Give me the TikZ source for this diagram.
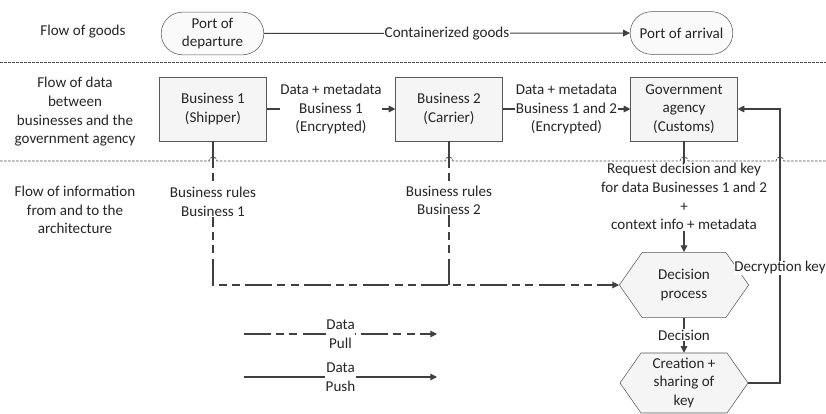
\documentclass[tikz,border=0pt]{standalone}
\usepackage{fontspec}
\setmainfont{Carlito}
\usetikzlibrary{shapes.misc,shapes.symbols,arrows.meta,positioning}

\begin{document}
\begin{tikzpicture}[x=0.75pt,y=-0.75pt,
  every node/.style={font=\fontsize{11.3}{14}\selectfont, text=black!85, align=center},
  port/.style={rounded rectangle, draw=black!65, fill=gray!4,
    minimum width=79pt, minimum height=32pt, inner sep=1pt},
  party/.style={rectangle, draw=black!65, fill=gray!8,
    minimum width=80pt, minimum height=48pt},
  process/.style={signal, signal to=east and west, signal pointer angle=110,
    draw=black!65, fill=gray!8, inner sep=1pt},
  link/.style={draw=black!75, line width=0.8pt},
  flow/.style={link, -{Triangle[length=5pt,width=5pt]}},
  pulllink/.style={link, dash pattern=on 20pt off 4pt on 6pt off 4pt on 6pt off 4pt},
  pull/.style={pulllink, -{Triangle[length=5pt,width=5pt]}},
  note/.style={fill=white, inner sep=0.5pt},
  sep/.style={draw=black!70, line width=0.6pt, dash pattern=on 2pt off 1pt}]
  \useasboundingbox (0,0) rectangle (826,414);

  % lanes
  \node (lanegoods) at (83,32) {Flow of goods};
  \node (lanedata) at (75,112) {Flow of data\\between\\businesses and the\\government agency};
  \node (laneinfo) at (75,210) {Flow of information\\from and to the\\architecture};

  \node[port] (dep) at (212.5,33.5) {Port of\\departure};
  \node[port] (arr) at (681.5,33) {Port of arrival};

  \node[party] (bus1) at (213,109) {Business 1\\(Shipper)};
  \node[party] (bus2) at (449,109) {Business 2\\(Carrier)};
  \node[party] (gov) at (684,109) {Government\\agency\\(Customs)};

  \node[process, minimum width=97pt, minimum height=49pt] (dec) at (684,285) {Decision\\process};
  \node[process, minimum width=96pt, minimum height=45pt] (key) at (684,383) {Creation +\\sharing of\\key};

  \coordinate (keyline) at (780,0);

  % separators
  \draw[sep] (0,62) -- (826,62);
  \draw[sep] (0,161) foreach \hx in {213,449,684,780} {
    -- (\hx-4,161) arc[start angle=180, end angle=360, radius=4]} -- (826,161);

  \draw[flow] (dep) -- node[note] {Containerized goods} (arr);
  \draw[flow] (bus1) -- node[note] {Data + metadata\\Business 1\\(Encrypted)} (bus2);
  \draw[flow] (bus2) -- node[note] {Data + metadata\\Business 1 and 2\\(Encrypted)} (gov);

  \draw[pull] (bus1.south) -- node[note, pos=0.42] {Business rules\\Business 1} (bus1.south |- dec.west) -- (dec.west);
  \draw[pulllink] (bus2.south) -- node[note, pos=0.41] {Business rules\\Business 2} (bus2.south |- dec.west);

  \draw[flow] (gov.south) -- node[note] {Request decision and key\\for data Businesses 1 and 2\\+\\context info + metadata} (dec.north);
  \draw[flow] (dec.south) -- node[note] {Decision} (key.north);
  \draw[flow] (key.east) -- (key.east -| keyline) -- node[note, pos=0.42] {Decryption key} (keyline |- gov.east) -- (gov.east);

  % legend
  \coordinate (pullA) at (244,334);
  \coordinate (pullB) at (437,334);
  \coordinate (pushA) at (244,377);
  \coordinate (pushB) at (437,377);
  \draw[pull] (pullA) -- node[note] {Data\\Pull} (pullB);
  \draw[flow] (pushA) -- node[note] {Data\\Push} (pushB);
\end{tikzpicture}
\end{document}
